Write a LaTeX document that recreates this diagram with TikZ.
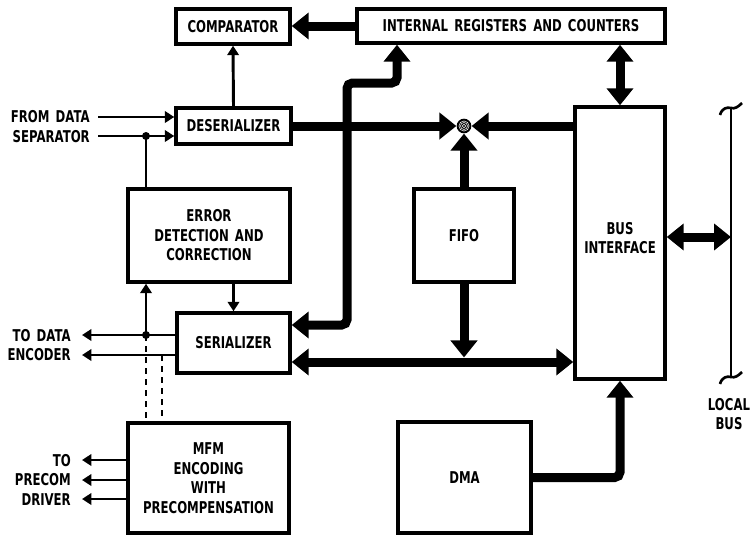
\documentclass[tikz,border=0pt]{standalone}
\usepackage{fontspec}
\setmainfont{DejaVu Sans}[FakeStretch=0.72, WordSpace=1.5]
\usetikzlibrary{arrows.meta}
\newcommand\diagfont{\fontsize{12.2}{14.6}\selectfont\bfseries}
\tikzset{
  bigtip/.tip={Triangle[width=19.5pt,length=12.75pt]},
  smalltip/.tip={Triangle[width=8.5pt,length=7pt]}
}
\begin{document}
\begin{tikzpicture}[x=0.75pt,y=-0.75pt,
  blk/.style 2 args={draw, line width=2.6pt, minimum width=#1*0.75pt, minimum height=#2*0.75pt, inner sep=0pt, align=center, font=\diagfont},
  txt/.style={align=right, inner sep=0pt, font=\diagfont},
  jct/.style={circle, fill=black, minimum size=11pt, inner sep=0pt},
  barr/.style={line width=6.75pt, -bigtip},
  dbarr/.style={line width=6.75pt, bigtip-bigtip},
  sarr/.style={line width=2.2pt, -smalltip},
  sline/.style={line width=2.2pt},
  dline/.style={line width=2.2pt, dash pattern=on 4.5pt off 3.75pt}
]
\useasboundingbox (0,0) rectangle (751,536);

% blocks
\node[blk={114}{35}] (comp) at (233,26.5) {COMPARATOR};
\node[blk={308}{34}] (regs) at (511,26) {INTERNAL REGISTERS AND COUNTERS};
\node[blk={115}{36}] (deser) at (233.5,126) {DESERIALIZER};
\node[blk={162}{93}] (ed) at (209,235.5) {ERROR\\DETECTION AND\\CORRECTION};
\node[blk={113}{60}] (ser) at (233.5,343) {SERIALIZER};
\node[blk={161}{110}] (mfm) at (208.5,478) {MFM\\ENCODING\\WITH\\PRECOMPENSATION};
\node[blk={100}{93}] (fifo) at (464,235.5) {FIFO};
\node[blk={90}{272}] (busif) at (620,243) {BUS\\INTERFACE\\[-7pt]};
\node[blk={133}{111}] (dma) at (464.5,477.5) {DMA};
\node[jct] (jn) at (464,126) {};
\draw[white, line width=0.4pt] (jn) circle (1.4pt) (jn) circle (2.6pt) (jn) circle (3.8pt);

% outside labels
\node[txt, anchor=east] (fromsep) at (90,126.5) {FROM DATA\\SEPARATOR};
\node[txt, anchor=east] (toenc) at (71,345) {TO DATA\\ENCODER};
\node[txt, anchor=east] (toprec) at (71,479.5) {TO\\PRECOM\\DRIVER};
\node[txt, align=center] (local) at (729,414) {LOCAL\\BUS};

% free ends and bends
\coordinate (in1) at (98,117);
\coordinate (in2) at (98,136);
\coordinate (j1) at (146,136);
\coordinate (out1) at (82,335);
\coordinate (out2) at (82,355);
\coordinate (j2) at (146,335);
\coordinate (j3) at (162,355);
\coordinate (pc1) at (82,460);
\coordinate (pc2) at (82,480);
\coordinate (pc3) at (82,499);
\coordinate (s1) at (347,325);
\coordinate (bend) at (397,83);
\coordinate (hb) at (464,362);
\coordinate (lb) at (731,237);
\coordinate (lbtop) at (731,108);
\coordinate (lbbot) at (731,377);

% serial side
\draw[sarr] (deser.north) -- (comp.south);
\draw[sarr] (in1) -- (in1 -| deser.west);
\draw[sarr] (in2) -- (in2 -| deser.west);
\draw[sline] (j1) -- (j1 |- ed.north);
\fill (j1) circle (3pt);
\draw[sarr] (ser.north |- ed.south) -- (ser.north);
\draw[sarr] (out1 -| ser.west) -- (out1);
\draw[sarr] (out2 -| ser.west) -- (out2);
\draw[sarr] (j2) -- (j2 |- ed.south);
\fill (j2) circle (3pt);
\draw[dline] (j2) -- (j2 |- mfm.north);
\draw[dline] (j3) -- (j3 |- mfm.north);
\foreach \p in {pc1,pc2,pc3}
  \draw[sarr] (\p -| mfm.west) -- (\p);

% buses
\draw[barr] (regs.west) -- (regs.west -| comp.east);
\draw[barr] (deser.east) -- (jn.west);
\draw[barr] (jn -| busif.west) -- (jn.east);
\draw[barr] (fifo.north) -- (jn.south);
\draw[barr] (fifo.south) -- ([yshift=3.4pt]hb);
\draw[dbarr] (hb -| ser.east) -- (hb -| busif.west);
\draw[dbarr, rounded corners=4pt] (s1 -| ser.east) -- (s1) |- (bend) -- (bend |- regs.south);
\draw[dbarr] (busif.north) -- (busif.north |- regs.south);
\draw[barr, rounded corners=4pt] (dma.east) -| (busif.south);
\draw[dbarr] (lb -| busif.east) -- (lb);

% local bus
\draw[line width=2.2pt] (lbtop) -- (lbbot);
\draw[line width=2pt] (720,115) .. controls (722,108) and (727,107) .. (731,108) .. controls (735,109) and (738,107) .. (742,103);
\draw[line width=2pt] (720,384) .. controls (722,377) and (727,376) .. (731,377) .. controls (735,378) and (738,376) .. (742,372);
\end{tikzpicture}
\end{document}
